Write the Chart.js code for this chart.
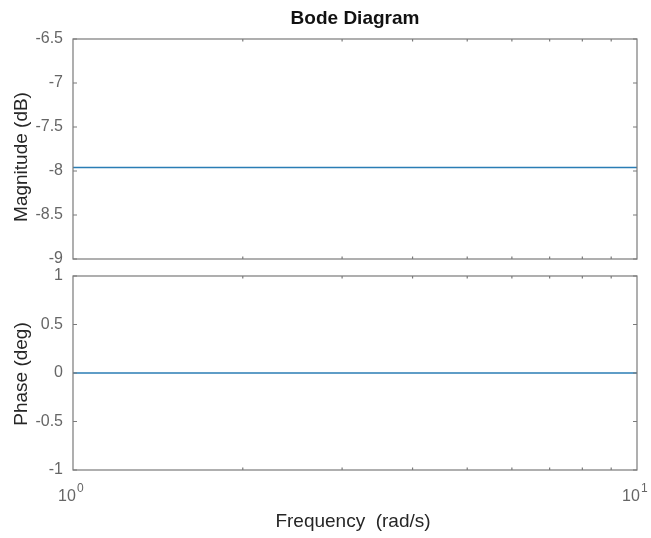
<!DOCTYPE html>
<html lang="en">
<head>
    <meta charset="UTF-8">
    <title>Bode Diagram</title>
    <script src="https://cdn.jsdelivr.net/npm/chart.js"></script>
    <style>
        body { margin: 0; background: #fff; }
        #wrap { position: relative; width: 651px; height: 538px; }
        canvas { position: absolute; left: 0; top: 0; }
    </style>
</head>
<body>
<div id="wrap">
    <canvas id="magChart" width="651" height="538"></canvas>
    <canvas id="phaseChart" width="651" height="538"></canvas>
</div>
<script>
    // data
    const freq = [1, 2, 3, 4, 5, 6, 7, 8, 9, 10];
    const magnitude = [-7.96, -7.96, -7.96, -7.96, -7.96, -7.96, -7.96, -7.96, -7.96, -7.96];
    const phase = [0, 0, 0, 0, 0, 0, 0, 0, 0, 0];
    const minorTicks = [2, 3, 4, 5, 6, 7, 8, 9];
    const xTickLabels = [{ v: 1, exp: '0' }, { v: 10, exp: '1' }];

    const W = 651, H = 538;
    const FONT = "'Liberation Sans', Arial, sans-serif";
    const lineColor = '#2a7db5';
    const axisColor = '#7a7a7a';

    // box + inward ticks, like matlab axes
    const boxPlugin = {
        id: 'box',
        afterDatasetsDraw(chart) {
            const { ctx, chartArea: a, scales } = chart;
            ctx.save();
            ctx.strokeStyle = axisColor;
            ctx.lineWidth = 1.2;
            ctx.strokeRect(a.left, a.top, a.right - a.left, a.bottom - a.top);
            ctx.beginPath();
            scales.y.ticks.forEach(t => {
                const y = scales.y.getPixelForValue(t.value);
                ctx.moveTo(a.left, y); ctx.lineTo(a.left + 4, y);
                ctx.moveTo(a.right, y); ctx.lineTo(a.right - 4, y);
            });
            minorTicks.forEach(v => {
                const x = scales.x.getPixelForValue(v);
                ctx.moveTo(x, a.top); ctx.lineTo(x, a.top + 2.5);
                ctx.moveTo(x, a.bottom); ctx.lineTo(x, a.bottom - 2.5);
            });
            ctx.stroke();
            ctx.restore();
        }
    };

    const textPlugin = {
        id: 'texts',
        afterDraw(chart) {
            const { ctx, chartArea: a, scales } = chart;
            const o = chart.options.plugins.texts;
            ctx.save();
            if (o.title) {
                ctx.fillStyle = '#111';
                ctx.font = 'bold 19px ' + FONT;
                ctx.textAlign = 'center';
                ctx.textBaseline = 'alphabetic';
                ctx.fillText(o.title, (a.left + a.right) / 2, 24);
            }
            ctx.fillStyle = '#262626';
            ctx.font = '19px ' + FONT;
            ctx.save();
            ctx.translate(27, o.yLabelY);
            ctx.rotate(-Math.PI / 2);
            ctx.textAlign = 'center';
            ctx.textBaseline = 'alphabetic';
            ctx.fillText(o.yLabel, 0, 0);
            ctx.restore();
            if (o.xLabel) {
                ctx.textAlign = 'center';
                ctx.fillText(o.xLabel, 353, 527);
                // 10^n labels
                ctx.fillStyle = '#666';
                xTickLabels.forEach(t => {
                    const x = scales.x.getPixelForValue(t.v);
                    ctx.font = '16px ' + FONT;
                    ctx.textAlign = 'center';
                    ctx.fillText('10', x - 6, 501);
                    ctx.font = '12px ' + FONT;
                    ctx.textAlign = 'left';
                    ctx.fillText(t.exp, x + 4, 492);
                });
            }
            ctx.restore();
        }
    };

    function makeChart(id, values, yMin, yMax, area, texts) {
        return new Chart(document.getElementById(id), {
            type: 'line',
            data: {
                labels: freq,
                datasets: [{
                    data: values.map((v, i) => ({ x: freq[i], y: v })),
                    borderColor: lineColor,
                    borderWidth: 1.5,
                    pointRadius: 0,
                    fill: false
                }]
            },
            options: {
                responsive: false,
                animation: false,
                layout: { padding: { top: area.top, bottom: H - area.bottom, left: 0, right: W - area.right } },
                plugins: { legend: { display: false }, tooltip: { enabled: false }, texts: texts },
                scales: {
                    x: { type: 'logarithmic', min: 1, max: 10, display: false },
                    y: {
                        min: yMin, max: yMax,
                        grid: { display: false, drawTicks: false },
                        border: { display: false },
                        ticks: {
                            stepSize: 0.5, padding: 10, color: '#666',
                            font: { family: FONT, size: 16 },
                            callback: v => String(v)
                        },
                        afterFit: s => { s.width = area.left; }
                    }
                }
            },
            plugins: [boxPlugin, textPlugin]
        });
    }

    makeChart('magChart', magnitude, -9, -6.5, { left: 73, right: 637, top: 39, bottom: 259 },
        { title: 'Bode Diagram', yLabel: 'Magnitude (dB)', yLabelY: 157 });
    makeChart('phaseChart', phase, -1, 1, { left: 73, right: 637, top: 276, bottom: 470 },
        { yLabel: 'Phase (deg)', yLabelY: 374, xLabel: 'Frequency  (rad/s)' });
</script>
</body>
</html>
